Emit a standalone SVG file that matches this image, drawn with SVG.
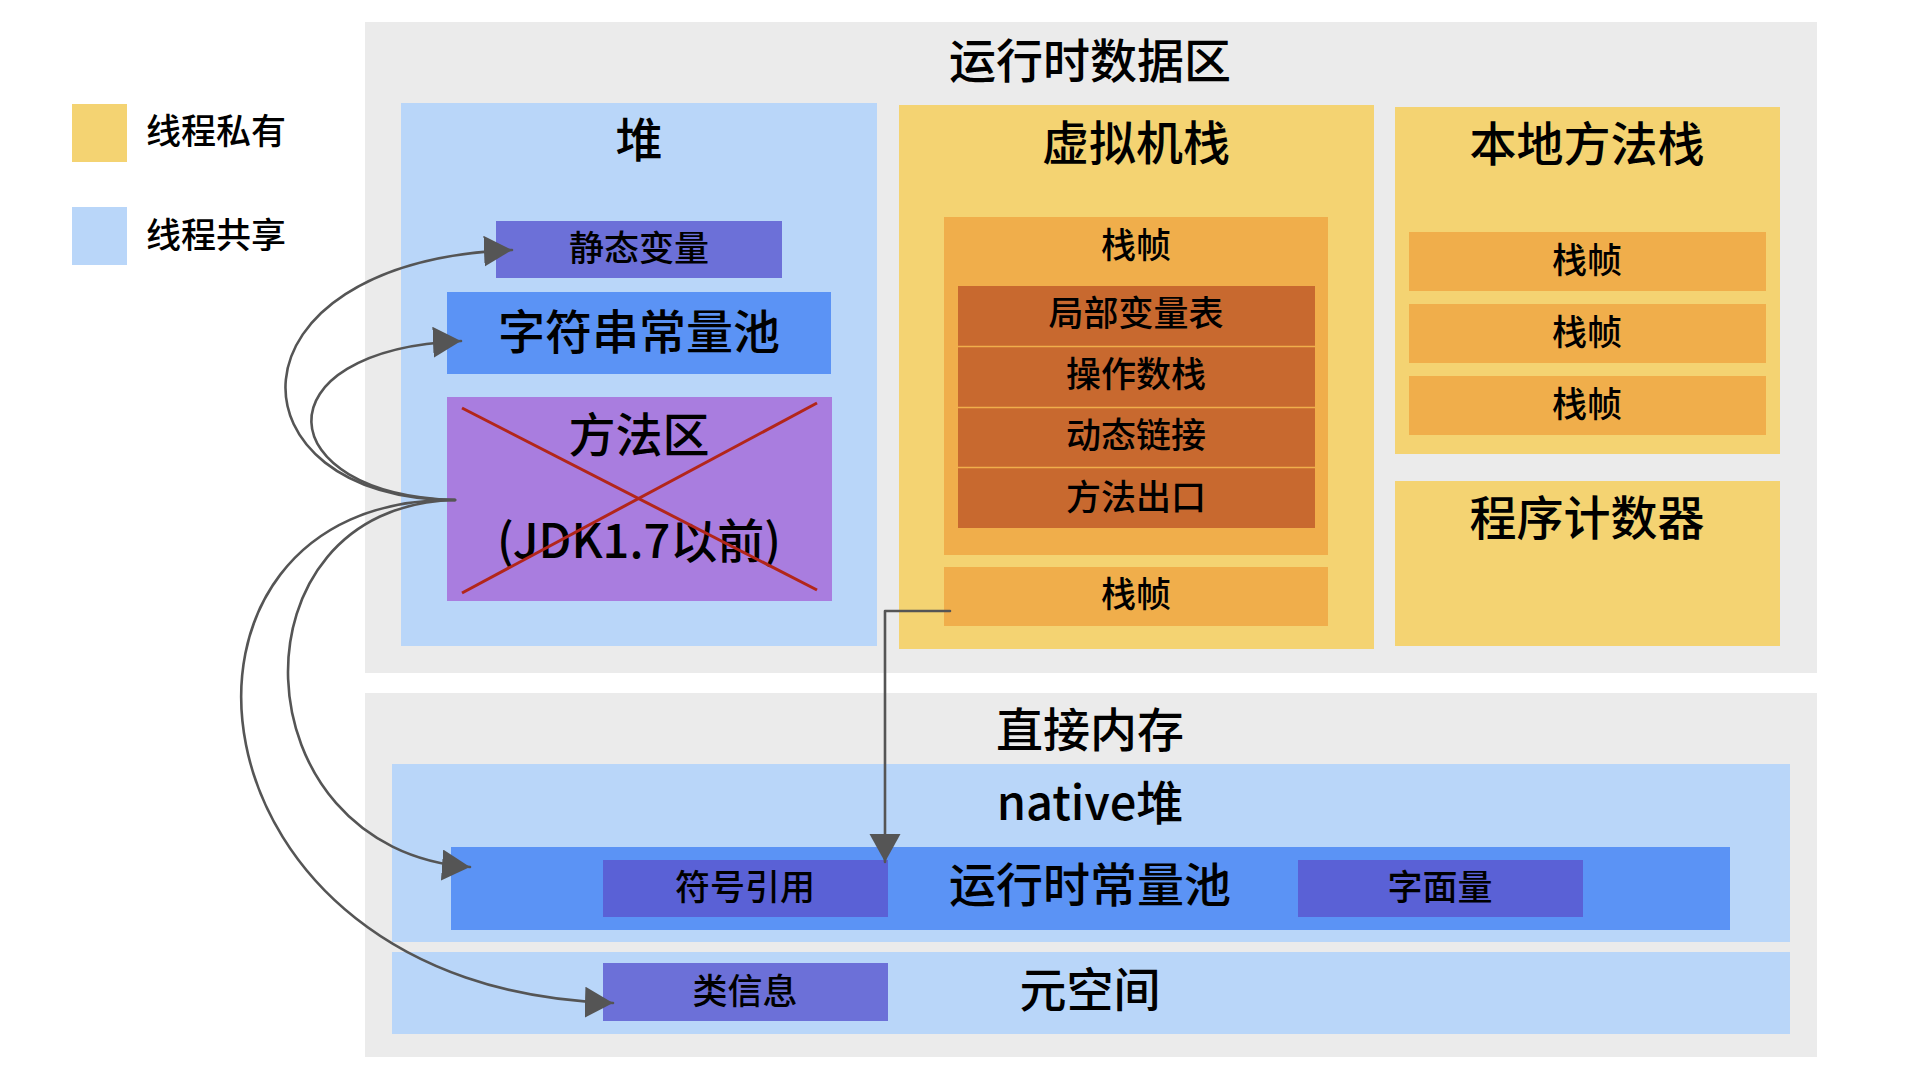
<svg xmlns="http://www.w3.org/2000/svg" width="1920" height="1080" viewBox="0 0 1920 1080">
<defs>
<style>
text{font-family:"Noto Sans CJK SC","Noto Sans",sans-serif;font-weight:500;fill:#000;text-anchor:middle;dominant-baseline:central}
.t47{font-size:47px}
.t35{font-size:35px}
.gray{fill:#EBEBEB}
.yel{fill:#F4D372}
.lb{fill:#B9D6F9}
.or{fill:#F0AE4B}
.dor{fill:#C8692F}
.vio{fill:#6C70D8}
.blu{fill:#5B93F5}
.dvio{fill:#5A61D6}
.pur{fill:#A97DDF}
.conn{fill:none;stroke:#555;stroke-width:2.6;stroke-linecap:round;stroke-linejoin:round}
</style>
<marker id="ah" markerUnits="userSpaceOnUse" markerWidth="30" markerHeight="32" refX="28" refY="15.5" orient="auto">
<path d="M0,0 L28,15.5 L0,31 Z" fill="#555"/>
</marker>
</defs>
<rect width="1920" height="1080" fill="#fff"/>

<g id="legend">
<rect x="72" y="104" width="55" height="58" class="yel"/>
<text x="146" y="128" class="t35" style="text-anchor:start">线程私有</text>
<rect x="72" y="207" width="55" height="58" class="lb"/>
<text x="146" y="232" class="t35" style="text-anchor:start">线程共享</text>
</g>

<g id="runtime-data-area">
<rect x="365" y="22" width="1452" height="651" class="gray"/>
<text x="1090" y="57" class="t47">运行时数据区</text>
</g>

<g id="heap">
<rect x="401" y="103" width="476" height="543" class="lb"/>
<text x="639" y="136" class="t47">堆</text>
</g>
<g id="static-vars">
<rect x="496" y="221" width="286" height="57" class="vio"/>
<text x="639" y="245" class="t35">静态变量</text>
</g>
<g id="string-pool">
<rect x="447" y="292" width="384" height="82" class="blu"/>
<text x="639" y="328" class="t47">字符串常量池</text>
</g>
<g id="method-area">
<rect x="447" y="397" width="385" height="204" class="pur"/>
<text x="639" y="431" class="t47">方法区</text>
<text x="639" y="537" class="t47">(JDK1.7以前)</text>
<line x1="462" y1="408" x2="817" y2="590" stroke="#B3261A" stroke-width="3"/>
<line x1="462" y1="593" x2="817" y2="403" stroke="#B3261A" stroke-width="3"/>
</g>

<g id="vm-stack">
<rect x="899" y="105" width="475" height="544" class="yel"/>
<text x="1136" y="139" class="t47">虚拟机栈</text>
</g>
<g id="vm-frame">
<rect x="944" y="217" width="384" height="338" class="or"/>
<text x="1136" y="242" class="t35">栈帧</text>
<rect x="958" y="286" width="357" height="242" class="dor"/>
<line x1="958" y1="346.5" x2="1315" y2="346.5" stroke="#F0AE4B" stroke-width="1.5"/>
<line x1="958" y1="407.5" x2="1315" y2="407.5" stroke="#F0AE4B" stroke-width="1.5"/>
<line x1="958" y1="467.5" x2="1315" y2="467.5" stroke="#F0AE4B" stroke-width="1.5"/>
<text x="1136" y="310" class="t35">局部变量表</text>
<text x="1136" y="371" class="t35">操作数栈</text>
<text x="1136" y="432" class="t35">动态链接</text>
<text x="1136" y="494" class="t35">方法出口</text>
</g>
<g id="vm-frame-2">
<rect x="944" y="567" width="384" height="59" class="or"/>
<text x="1136" y="591" class="t35">栈帧</text>
</g>

<g id="native-stack">
<rect x="1395" y="107" width="385" height="347" class="yel"/>
<text x="1587" y="140" class="t47">本地方法栈</text>
<rect x="1409" y="232" width="357" height="59" class="or"/>
<text x="1587" y="257" class="t35">栈帧</text>
<rect x="1409" y="304" width="357" height="59" class="or"/>
<text x="1587" y="329" class="t35">栈帧</text>
<rect x="1409" y="376" width="357" height="59" class="or"/>
<text x="1587" y="401" class="t35">栈帧</text>
</g>

<g id="pc-register">
<rect x="1395" y="481" width="385" height="165" class="yel"/>
<text x="1587" y="514" class="t47">程序计数器</text>
</g>

<g id="direct-memory">
<rect x="365" y="693" width="1452" height="364" class="gray"/>
<text x="1090" y="726" class="t47">直接内存</text>
</g>
<g id="native-heap">
<rect x="392" y="764" width="1398" height="178" class="lb"/>
<text x="1090" y="799" class="t47">native堆</text>
</g>
<g id="runtime-constant-pool">
<rect x="451" y="847" width="1279" height="83" class="blu"/>
<text x="1090" y="881" class="t47">运行时常量池</text>
</g>
<g id="symbol-ref">
<rect x="603" y="860" width="285" height="57" class="dvio"/>
<text x="745" y="884" class="t35">符号引用</text>
</g>
<g id="literal">
<rect x="1298" y="860" width="285" height="57" class="dvio"/>
<text x="1440" y="884" class="t35">字面量</text>
</g>
<g id="metaspace">
<rect x="392" y="952" width="1398" height="82" class="lb"/>
<text x="1090" y="986" class="t47">元空间</text>
</g>
<g id="class-info">
<rect x="603" y="963" width="285" height="58" class="vio"/>
<text x="745" y="988" class="t35">类信息</text>
</g>

<g id="connectors">
<path class="conn" marker-end="url(#ah)" d="M455,500 C225,500 215,262 512,250"/>
<path class="conn" marker-end="url(#ah)" d="M455,500 C270,495 255,350 461,341"/>
<path class="conn" marker-end="url(#ah)" d="M455,500 C225,505 235,850 470,867"/>
<path class="conn" marker-end="url(#ah)" d="M455,500 C130,495 170,990 613,1003"/>
<path class="conn" marker-end="url(#ah)" d="M950,611 L885,611 L885,862"/>
</g>
</svg>
